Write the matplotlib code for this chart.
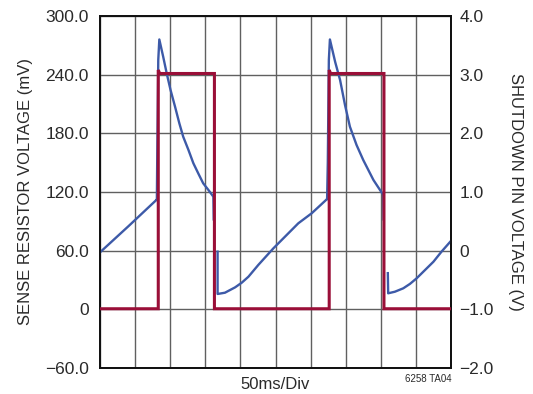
import numpy as np
import matplotlib
matplotlib.use("Agg")
import matplotlib.pyplot as plt

plt.rcParams['font.family'] = ['Liberation Sans Narrow', 'Liberation Sans', 'DejaVu Sans']

# time in divisions (50 ms/div)
t_sense = [0.00, 0.81, 1.61, 1.62, 1.63, 1.66, 1.69, 1.80, 1.90, 2.01, 2.14, 2.26, 2.37, 2.52, 2.66,
           2.80, 2.94, 3.09, 3.23, 3.24, np.nan,
           3.35, 3.35, 3.56, 3.85, 4.04, 4.23, 4.51, 4.94, 5.27, 5.65, 6.03, 6.46,
           6.47, 6.49, 6.52, 6.55, 6.70, 6.84, 6.98, 7.12, 7.31, 7.50, 7.79, 8.07, 8.08, np.nan,
           8.20, 8.21, 8.40, 8.64, 8.83, 9.02, 9.26, 9.50, 9.73, 10.0]
v_sense = [58.3, 85.0, 112.0, 112.0, 152.0, 255.0, 276.0, 258.4, 241.4, 224.3, 207.0, 190.3, 176.6, 163.0, 149.4,
           139.0, 128.9, 122.0, 115.2, 92.0, np.nan,
           59.0, 15.7, 17.0, 22.5, 27.3, 33.4, 45.4, 62.4, 74.3, 88.0, 98.2, 112.5,
           112.5, 150.0, 255.0, 276.0, 253.0, 234.5, 209.0, 186.8, 168.0, 152.7, 132.3, 117.0, 92.0, np.nan,
           37.0, 16.4, 18.0, 21.5, 26.0, 31.7, 40.2, 48.7, 59.0, 70.0]

t_shdn = [0.00, 1.66, 1.66, 1.70, 3.26, 3.26, 6.53, 6.53, 6.57, 8.09, 8.09, 10.0]
v_shdn = [-0.99, -0.99, 3.08, 3.02, 3.02, -0.99, -0.99, 3.08, 3.02, 3.02, -0.99, -0.99]

left_ticks = [-60, 0, 60, 120, 180, 240, 300]
left_labels = ['\u221260.0', '0', '60.0', '120.0', '180.0', '240.0', '300.0']
right_ticks = [-2, -1, 0, 1, 2, 3, 4]
right_labels = ['\u22122.0', '\u22121.0', '0', '1.0', '2.0', '3.0', '4.0']

W, H = 533, 394
fig = plt.figure(figsize=(W / 100, H / 100), dpi=100)
ax = fig.add_axes([100 / W, 26 / H, 351 / W, 352 / H])
ax2 = ax.twinx()

ms_per_div = 50
t_sense_ms = np.array(t_sense) * ms_per_div
t_shdn_ms = np.array(t_shdn) * ms_per_div

ax.set_xlim(0, 500)
ax.set_ylim(-60, 300)
ax2.set_ylim(-2, 4)
ax.set_xticks(np.arange(0, 501, 50))
ax.set_yticks(left_ticks)
ax.set_yticklabels(left_labels)
ax2.set_yticks(right_ticks)
ax2.set_yticklabels(right_labels)
ax.tick_params(axis='x', length=0, labelbottom=False)
ax.tick_params(axis='y', length=0, pad=8, labelsize=12.5, colors='#2a2a2a')
ax2.tick_params(axis='y', length=0, pad=6, labelsize=12.5, colors='#2a2a2a')
ax.grid(True, color='#606060', linewidth=1.0)
ax.set_axisbelow(True)

ax.plot(t_sense_ms, v_sense, color='#3d5aa8', linewidth=1.7, solid_joinstyle='round', zorder=3)
ax2.plot(t_shdn_ms, v_shdn, color='#9a0f38', linewidth=2.2, solid_joinstyle='miter', zorder=4)

for a in (ax, ax2):
    for s in a.spines.values():
        s.set_color('#111111')
        s.set_linewidth(1.3)

fig.text(25.5 / W, 1 - 191.5 / H, 'SENSE RESISTOR VOLTAGE (mV)', fontsize=12, color='#2a2a2a',
         rotation=90, ha='center', va='center')
fig.text(515 / W, 1 - 191.5 / H, 'SHUTDOWN PIN VOLTAGE (V)', fontsize=12, color='#2a2a2a',
         rotation=270, ha='center', va='center')
fig.text(275.5 / W, 1 - 384.5 / H, '50ms/Div', fontsize=12, color='#2a2a2a', ha='center', va='center')
fig.text(452 / W, 1 - 382 / H, '6258 TA04', fontsize=7, ha='right', va='baseline', color='#2a2a2a')

fig.savefig('out.png', dpi=100)
